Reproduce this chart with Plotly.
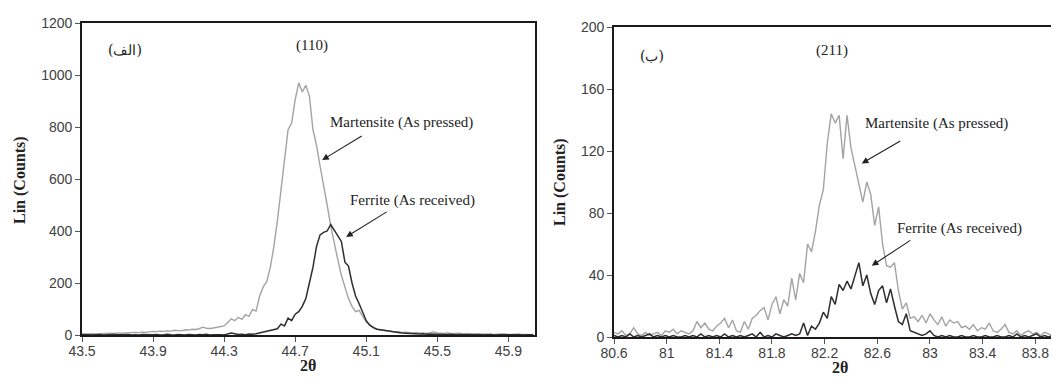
import numpy as np
import plotly.graph_objects as go

# ---------------- data: (110) reflection ----------------
start_110, step_110 = 43.50, 0.02
martensite_110 = [
    3, 4, 3, 5, 4, 5, 6, 5, 7, 6, 8,
    7, 8, 9, 8, 10, 9, 11, 10, 12, 14,
    13, 15, 14, 16, 15, 18, 17, 16, 20, 19,
    22, 21, 24, 30, 26, 25, 27, 30, 32, 35,
    48, 62, 55, 68, 60, 78, 72, 98, 92, 150,
    185, 205, 260, 340, 440, 560, 680, 790, 815, 905,
    970, 935, 960, 920, 790, 730, 650, 580, 500, 420,
    350, 290, 230, 180, 140, 110, 90, 95, 70, 50,
    38, 30, 22, 20, 18, 15, 14, 12, 13, 10,
    11, 9, 8, 10, 7, 8, 6, 9, 12, 8,
    7, 6, 8, 5, 6, 7, 5, 4, 6, 4,
    5, 3, 4, 3, 4, 2, 3, 4, 2, 3,
    2, 3, 2, 3, 2, 1, 2,
]
ferrite_110 = [
    2, 1, 2, 0, 1, 2, 0, 1, 0, 2, 1,
    0, 1, 2, 0, 1, 0, 2, 1, 0, 1,
    2, 0, 1, 3, 1, 0, 2, 1, 0, 2,
    1, 0, 2, 1, 3, 0, 1, 2, 1, 0,
    4, 8, 5, 2, 3, 1, 4, 3, 5, 8,
    12, 15, 18, 20, 24, 42, 35, 65, 55, 80,
    90, 110, 140, 200, 260, 340, 385, 395, 400, 425,
    405, 380, 360, 280, 265, 200, 150, 120, 85, 55,
    38, 28, 22, 20, 18, 15, 12, 11, 9, 8,
    7, 6, 5, 6, 4, 5, 3, 4, 3, 2,
    3, 2, 2, 3, 1, 2, 1, 2, 1, 0,
    1, 2, 0, 1, 2, 0, 1, 0, 2, 1,
    0, 1, 2, 0, 1, 0, 1,
]

# ---------------- data: (211) reflection ----------------
start_211, step_211 = 80.60, 0.03
martensite_211 = [
    3, 2, 4, 1, 2, 6, 2, 1, 3, 1,
    2, 3, 1, 4, 3, 5, 2, 4, 3, 2,
    4, 10, 6, 9, 5, 4, 7, 9, 12, 6,
    11, 4, 3, 10, 5, 12, 14, 17, 19, 11,
    21, 26, 15, 24, 20, 38, 24, 41, 35, 60,
    55, 68, 85, 95, 125, 144, 138, 143, 115, 143,
    122, 110, 97, 87, 100, 92, 72, 84, 60, 46,
    45, 48, 30, 18, 22, 12, 13, 10, 14, 9,
    15, 11, 8, 13, 7, 11, 9, 10, 6, 7,
    5, 8, 4, 6, 5, 9, 4, 3, 5, 8,
    3, 2, 4, 1, 3, 4, 2, 3, 1, 3,
    2, 1, 2, 1,
]
ferrite_211 = [
    1, 0, 1, 0, 2, 0, 1, 0, 1, 2,
    0, 1, 0, 1, 0, 1, 0, 0, 1, 0,
    1, 0, 2, 0, 1, 0, 1, 0, 2, 0,
    1, 0, 1, 0, 1, 2, 0, 3, 0, 1,
    0, 2, 1, 0, 1, 2, 1, 2, 9, 1,
    7, 5, 9, 16, 12, 26, 21, 34, 30, 36,
    31, 40, 48, 33, 40, 28, 21, 30, 33, 22,
    31, 20, 10, 8, 15, 4, 3, 2, 1, 2,
    4, 1, 0, 1, 0, 1, 0, 0, 1, 0,
    0, 1, 0, 0, 1, 0, 0, 1, 0, 0,
    1, 0, 2, 0, 1, 0, 1, 2, 0, 1,
    0, 1, 0, 1,
]

x_ticks_110 = [43.5, 43.9, 44.3, 44.7, 45.1, 45.5, 45.9]
y_ticks_110 = [0, 200, 400, 600, 800, 1000, 1200]
x_ticks_211 = [80.6, 81.0, 81.4, 81.8, 82.2, 82.6, 83.0, 83.4, 83.8]
x_ticktext_211 = ["80.6", "81", "81.4", "81.8", "82.2", "82.6", "83", "83.4", "83.8"]
y_ticks_211 = [0, 40, 80, 120, 160, 200]

theta_110_m = np.round(start_110 + step_110 * np.arange(len(martensite_110)), 2)
theta_110_f = np.round(start_110 + step_110 * np.arange(len(ferrite_110)), 2)
theta_211_m = np.round(start_211 + step_211 * np.arange(len(martensite_211)), 2)
theta_211_f = np.round(start_211 + step_211 * np.arange(len(ferrite_211)), 2)

GRAY = "#a3a3a3"
DARK = "#2e2e2e"
W, H = 1059, 388
OFF = 8  # page body margin


def px(v):
    return (v - OFF) / W


def py(v):
    return (H - (v - OFF)) / H


fig = go.Figure()
fig.add_trace(go.Scatter(x=theta_110_m, y=martensite_110, mode="lines",
                         line=dict(color=GRAY, width=1.4), xaxis="x", yaxis="y"))
fig.add_trace(go.Scatter(x=theta_110_f, y=ferrite_110, mode="lines",
                         line=dict(color=DARK, width=1.5), xaxis="x", yaxis="y"))
fig.add_trace(go.Scatter(x=theta_211_m, y=martensite_211, mode="lines",
                         line=dict(color=GRAY, width=1.4), xaxis="x2", yaxis="y2"))
fig.add_trace(go.Scatter(x=theta_211_f, y=ferrite_211, mode="lines",
                         line=dict(color=DARK, width=1.5), xaxis="x2", yaxis="y2"))

tickfont = dict(family="Liberation Sans", size=14, color="#404040")
axis_common = dict(showgrid=False, zeroline=False, showline=True, linecolor="#1a1a1a",
                   linewidth=1.6, ticks="outside", ticklen=5, tickcolor="#555",
                   tickfont=tickfont)

fig.update_layout(
    width=W, height=H, showlegend=False,
    paper_bgcolor="white", plot_bgcolor="white",
    margin=dict(l=0, r=0, t=0, b=0, autoexpand=False),
    xaxis=dict(domain=[px(82), px(535)], range=[43.5, 46.05], tickvals=x_ticks_110,
               ticktext=[f"{v:.1f}" for v in x_ticks_110], mirror=True, anchor="y",
               ticklabelstandoff=-3, **axis_common),
    yaxis=dict(domain=[py(335), py(23)], range=[0, 1200], tickvals=y_ticks_110,
               mirror=True, anchor="x", **axis_common),
    xaxis2=dict(domain=[px(614), px(1059)], range=[80.6, 83.98], tickvals=x_ticks_211,
                ticktext=x_ticktext_211, mirror=True, anchor="y2",
                ticklabelstandoff=-3, **axis_common),
    yaxis2=dict(domain=[py(337), py(27)], range=[0, 200], tickvals=y_ticks_211,
                mirror=False, anchor="x2", **axis_common),
)

serif = "Liberation Serif"
txt = dict(family=serif, size=15, color="#222")
arab = dict(family="DejaVu Serif", size=14, color="#222")
arrow = dict(text="", showarrow=True, arrowhead=2, arrowsize=1.2, arrowwidth=1.1, arrowcolor="#222")
C = dict(xanchor="center", yanchor="middle", showarrow=False)
anns = []
# panel (a)
anns.append(dict(x=44.796, y=1115, xref="x", yref="y", text="(110)", font=txt, **C))
anns.append(dict(x=43.74, y=1096, xref="x", yref="y", text="(الف)", font=arab, **C))
anns.append(dict(x=45.30, y=819, xref="x", yref="y", text="Martensite (As pressed)", font=txt, **C))
anns.append(dict(x=44.852, y=673, ax=45.083, ay=769, xref="x", yref="y", axref="x", ayref="y", **arrow))
anns.append(dict(x=45.359, y=519, xref="x", yref="y", text="Ferrite (As received)", font=txt, **C))
anns.append(dict(x=44.987, y=377, ax=45.224, ay=477, xref="x", yref="y", axref="x", ayref="y", **arrow))
# panel (b)
anns.append(dict(x=82.255, y=185, xref="x2", yref="y2", text="(211)", font=txt, **C))
anns.append(dict(x=80.888, y=181, xref="x2", yref="y2", text="(ب)", font=arab, **C))
anns.append(dict(x=83.052, y=138, xref="x2", yref="y2", text="Martensite (As pressed)", font=txt, **C))
anns.append(dict(x=82.482, y=112, ax=82.786, ay=127, xref="x2", yref="y2", axref="x2", ayref="y2", **arrow))
anns.append(dict(x=83.226, y=70, xref="x2", yref="y2", text="Ferrite (As received)", font=txt, **C))
anns.append(dict(x=82.558, y=46, ax=82.862, ay=63, xref="x2", yref="y2", axref="x2", ayref="y2", **arrow))
# axis titles
title_font = dict(family=serif, size=16, color="#222")
anns.append(dict(x=px(20), y=py(180), xref="paper", yref="paper", text="<b>Lin (Counts)</b>",
                 textangle=-90, font=title_font, **C))
anns.append(dict(x=px(560), y=py(182), xref="paper", yref="paper", text="<b>Lin (Counts)</b>",
                 textangle=-90, font=title_font, **C))
anns.append(dict(x=px(308), y=py(365), xref="paper", yref="paper", text="<b>2θ</b>",
                 font=title_font, **C))
anns.append(dict(x=px(840), y=py(367), xref="paper", yref="paper", text="<b>2θ</b>",
                 font=title_font, **C))
fig.update_layout(annotations=anns)

fig.write_html("out.html")
